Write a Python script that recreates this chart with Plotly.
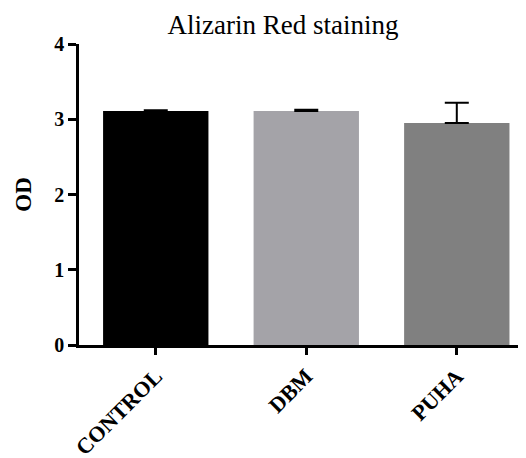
import plotly.graph_objects as go

categories = ["CONTROL", "DBM", "PUHA"]
values = [3.11, 3.11, 2.95]
errors = [0.01, 0.015, 0.27]
colors = ["#000000", "#a4a3a8", "#808080"]
y_ticks = [0, 1, 2, 3, 4]

fig = go.Figure()
fig.add_trace(go.Bar(
    x=categories, y=values,
    marker=dict(color=colors, line=dict(width=0)),
    width=0.7,
    error_y=dict(type="data", array=errors, arrayminus=[0, 0, 0], symmetric=False,
                 color="black", thickness=2, width=12),
))

font_family = "Liberation Serif, Times New Roman, serif"
fig.update_layout(
    width=526, height=458,
    margin=dict(l=71, r=0, t=36, b=121),
    plot_bgcolor="white", paper_bgcolor="white",
    showlegend=False,
    title=dict(text="Alizarin Red staining", x=275 / 526, xanchor="center", xref="container",
               y=1 - 17 / 458, yanchor="middle", yref="container", automargin=False,
               font=dict(family=font_family, size=27, color="black")),
    font=dict(family=font_family, color="black"),
)
fig.update_xaxes(
    range=[-0.51, 2.513], automargin=False,
    showline=True, linecolor="black", linewidth=2.5,
    ticks="outside", ticklen=7, tickwidth=2.5, tickcolor="black",
    tickangle=-45,
    tickfont=dict(family=font_family, size=22, color="black", weight="bold"),
    showgrid=False, zeroline=False,
)
fig.update_yaxes(
    range=[0, 4], tickvals=y_ticks, automargin=False,
    showline=True, linecolor="black", linewidth=2.5,
    ticks="outside", ticklen=8, tickwidth=2.5, tickcolor="black",
    tickfont=dict(family=font_family, size=20, color="black", weight="bold"),
    title=dict(text="OD", font=dict(family=font_family, size=23, color="black", weight="bold"), standoff=17),
    showgrid=False, zeroline=False,
)

fig.write_html("out.html")
